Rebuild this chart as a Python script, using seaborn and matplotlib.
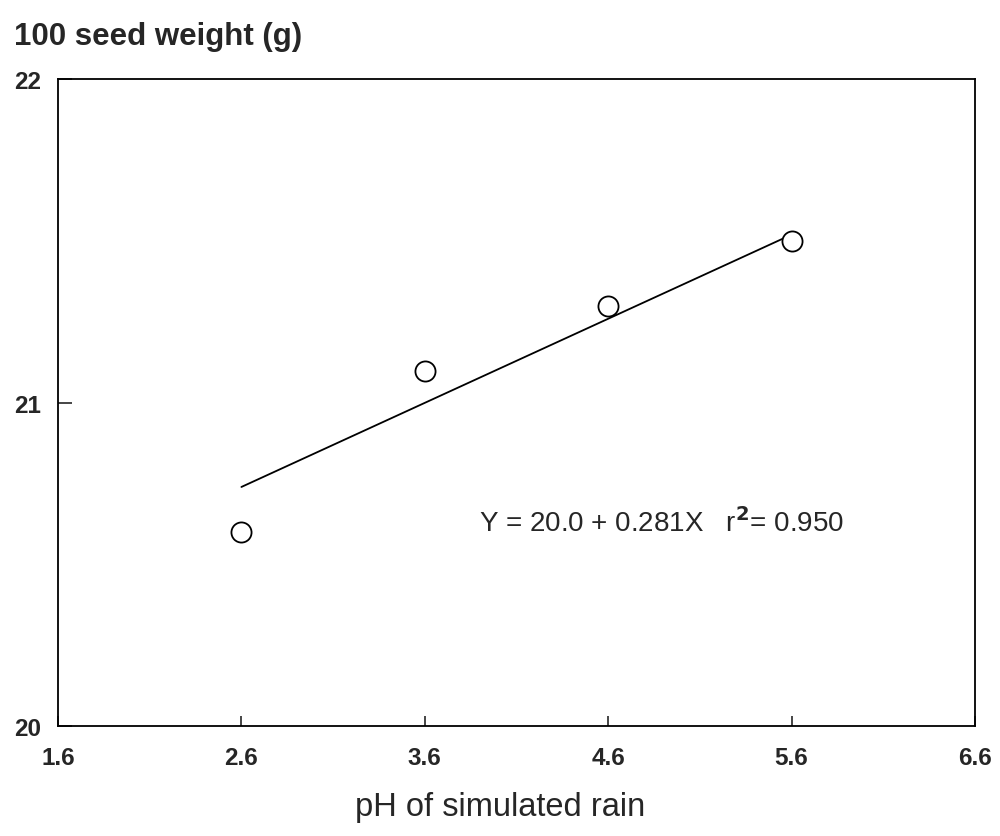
import numpy as np
import pandas as pd
import matplotlib
matplotlib.use("Agg")
import matplotlib.pyplot as plt
import seaborn as sns

# data
ph = [2.6, 3.6, 4.6, 5.6]
seed_weight = [20.6, 21.1, 21.3, 21.5]
fit_x = [2.6, 5.6]
fit_y = [20.74, 21.52]
x_ticks = [1.6, 2.6, 3.6, 4.6, 5.6, 6.6]
y_ticks = [20, 21, 22]

sns.set_style("white")
plt.rcParams['font.family'] = ['Liberation Sans', 'DejaVu Sans']

points = pd.DataFrame({'ph': ph, 'weight': seed_weight})
fit = pd.DataFrame({'ph': fit_x, 'weight': fit_y})

fig = plt.figure(figsize=(10, 8.37), dpi=100)
ax = fig.add_axes([0.058, 0.131, 0.917, 0.773])

sns.lineplot(data=fit, x='ph', y='weight', color='black', linewidth=1.3, ax=ax)
sns.scatterplot(data=points, x='ph', y='weight', s=210, facecolor='white',
                edgecolor='black', linewidth=1.3, ax=ax, zorder=3)

ax.set_xlim(1.6, 6.6)
ax.set_ylim(20, 22)
ax.set_xticks(x_ticks)
ax.set_yticks(y_ticks)
ax.set_xticklabels([f'{t:.1f}' for t in x_ticks], fontsize=17.5, fontweight='bold')
ax.set_yticklabels([str(t) for t in y_ticks], fontsize=17.5, fontweight='bold')
ax.tick_params(axis='x', direction='in', length=7, width=1.2, pad=14, bottom=True)
ax.tick_params(axis='y', direction='in', length=10, width=1.2, pad=12, left=True)
for s in ax.spines.values():
    s.set_color('black')
    s.set_linewidth(1.3)

ax.set_xlabel('')
ax.set_ylabel('')
fig.text(0.014, 0.956, '100 seed weight (g)', fontsize=22.5, fontweight='bold',
         ha='left', va='center')
fig.text(0.5, 0.035, 'pH of simulated rain', fontsize=23.5, ha='center', va='center')

ax.text(3.895, 20.63, r'Y = 20.0 + 0.281X   r$^{\mathbf{2}}$= 0.950', fontsize=20,
        ha='left', va='center')

plt.savefig('out.png', dpi=100)
